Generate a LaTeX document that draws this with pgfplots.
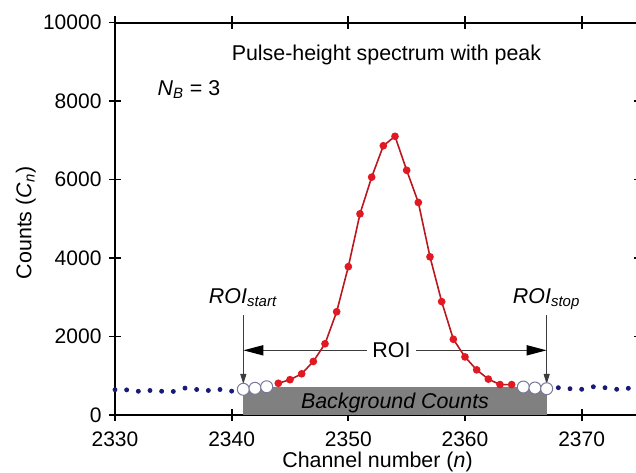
\documentclass[border=0pt]{standalone}
\usepackage{fontspec}
\setmainfont{Liberation Sans}
\usepackage{pgfplots}
\pgfplotsset{compat=1.18}
\usetikzlibrary{arrows.meta}
\definecolor{peakline}{RGB}{185,25,30}
\definecolor{peakmark}{RGB}{225,25,35}
\definecolor{bgdot}{RGB}{25,25,120}
\definecolor{circedge}{RGB}{120,120,155}
\definecolor{bggray}{RGB}{128,128,128}
\definecolor{roiline}{RGB}{60,60,60}
\begin{document}
\fontsize{10.7}{12.5}\selectfont
\begin{tikzpicture}
\begin{axis}[
  scale only axis, width=262.5pt, height=196.25pt,
  xmin=2330, xmax=2375, ymin=0, ymax=10000,
  xtick={2330,2340,2350,2360,2370}, ytick={0,2000,4000,6000,8000,10000},
  tick align=center, major tick length=6pt,
  axis line style={line width=1pt},
  every tick/.style={black, line width=0.9pt},
  scaled y ticks=false, scaled x ticks=false,
  /pgf/number format/1000 sep={},
  /pgf/number format/assume math mode=true,
  tick label style={font=\fontsize{10.5}{12}\selectfont},
  xticklabel style={yshift=-1.5pt},
  xlabel={Channel number (\textit{n})},
  ylabel={Counts (\textit{C}\textsubscript{\textit{n}})},
  xlabel style={at={(axis description cs:0.5,-0.12)}, anchor=center},
  ylabel style={at={(axis description cs:-0.17,0.49)}, anchor=center},
  clip=false,
]
\coordinate (sw) at (rel axis cs:0,0);
\coordinate (ne) at (rel axis cs:1,1);
% background area
\addplot[draw=none, fill=bggray] coordinates {(2341,0) (2341,720) (2367,720) (2367,0)} -- cycle;
\node[anchor=base, font=\itshape] at (axis cs:2354,160) {Background Counts};
% ROI arrows
\draw[roiline, line width=0.5pt, -{Triangle[length=5pt,width=3pt]}] (axis cs:2341,2550) -- (axis cs:2341,790);
\draw[roiline, line width=0.5pt, -{Triangle[length=5pt,width=3pt]}] (axis cs:2367,2550) -- (axis cs:2367,790);
\draw[roiline, line width=0.8pt, {Triangle[length=10pt,width=5pt,black]}-{Triangle[length=10pt,width=5pt,black]}] (axis cs:2341,1648) -- (axis cs:2367,1648);
\node[fill=white, inner xsep=2.5pt, inner ysep=1pt, anchor=center] at (axis cs:2353.7,1648) {ROI};
\node[anchor=base] at (axis cs:2341,2836) {\textit{ROI}\textsubscript{\textit{start}}};
\node[anchor=base] at (axis cs:2367,2836) {\textit{ROI}\textsubscript{\textit{stop}}};
% peak
\addplot[peakline, line width=0.8pt, mark=*, mark size=1.5pt, mark options={fill=peakmark, draw=peakmark}] coordinates {
(2344,808) (2345,900) (2346,1050) (2347,1365) (2348,1815) (2349,2630) (2350,3780)
(2351,5125) (2352,6060) (2353,6860) (2354,7100) (2355,6235) (2356,5415) (2357,4030)
(2358,2890) (2359,1930) (2360,1480) (2361,1150) (2362,915) (2363,775) (2364,775)};
% background channels outside ROI
\addplot[only marks, mark=*, mark size=1pt, bgdot] coordinates {
(2330,645) (2331,640) (2332,605) (2333,625) (2334,605) (2335,600) (2336,685)
(2337,650) (2338,625) (2339,650) (2340,608)};
\addplot[only marks, mark=*, mark size=1pt, bgdot] coordinates {
(2368,696) (2369,670) (2370,655) (2371,720) (2372,696) (2373,655) (2374,680)};
% N_B channels
\addplot[only marks, mark=*, mark size=3pt, mark options={fill=white, draw=circedge, line width=0.5pt}] coordinates {
(2341,655) (2342,680) (2343,720) (2365,713) (2366,688) (2367,670)};
\node[anchor=base] at (rel axis cs:0.517,0.9027) {Pulse-height spectrum with peak};
\node[anchor=base west] at (rel axis cs:0.0667,0.815) {\textit{N}\textsubscript{\textit{B}} = 3};
\end{axis}
\pgfresetboundingbox
\path[use as bounding box] ([xshift=-57.5pt,yshift=-28.5pt]sw) rectangle ([xshift=-2pt,yshift=11.25pt]ne);
\end{tikzpicture}
\end{document}
